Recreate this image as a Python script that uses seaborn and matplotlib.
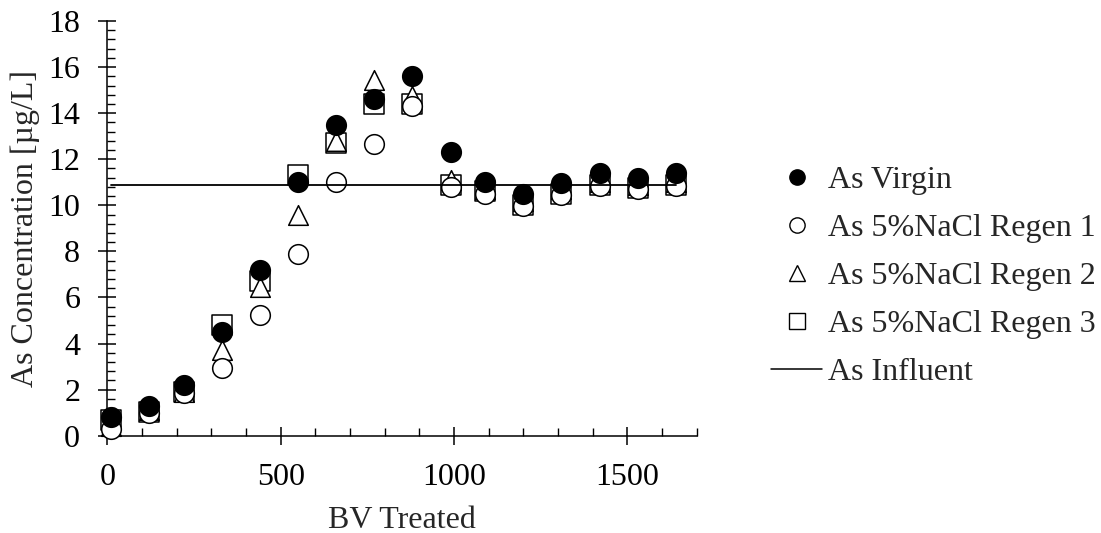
import matplotlib
matplotlib.use("Agg")
import matplotlib.pyplot as plt
from matplotlib.lines import Line2D
from matplotlib.ticker import MultipleLocator
import seaborn as sns
import pandas as pd

# Bed volumes treated at each sampling point
bv = [10, 120, 220, 330, 440, 550, 660, 770, 880, 990, 1090, 1200, 1310, 1420, 1530, 1640]

# Effluent arsenic concentration (µg/L) for each resin condition
as_virgin = [0.8, 1.3, 2.2, 4.5, 7.2, 11.0, 13.5, 14.6, 15.6, 12.3, 11.0, 10.5, 10.95, 11.4, 11.2, 11.4]
as_regen1 = [0.3, 1.0, 1.85, 2.95, 5.25, 7.9, 11.0, 12.65, 14.3, 10.8, 10.5, 9.95, 10.45, 10.85, 10.7, 10.85]
as_regen2 = [0.4, 1.1, 1.9, 3.7, 6.45, 9.6, 12.8, 15.45, 14.75, 11.1, 10.7, 10.2, 10.7, 11.0, 10.9, 11.0]
as_regen3 = [0.7, 1.05, 1.9, 4.8, 6.7, 11.3, 12.7, 14.4, 14.4, 10.9, 10.6, 10.0, 10.5, 10.9, 10.75, 10.9]

# Influent arsenic concentration (µg/L)
as_influent = 10.9

labels = ["As Virgin", "As 5%NaCl Regen 1", "As 5%NaCl Regen 2",
          "As 5%NaCl Regen 3", "As Influent"]

sns.set_theme(style="ticks")
plt.rcParams["font.family"] = ["Liberation Serif", "DejaVu Serif"]

FS = 23

fig = plt.figure(figsize=(11.01, 5.33), dpi=100)
ax = fig.add_axes([107.3 / 1101, 1 - 435.7 / 533, (696.7 - 107.3) / 1101, (435.7 - 21) / 533])

df = pd.DataFrame({"bv": bv, "virgin": as_virgin, "regen1": as_regen1,
                   "regen2": as_regen2, "regen3": as_regen3})

msize = 200
mew = 1.1
# open markers drawn first, white-filled; virgin on top
styles = [
    ("regen3", "s", "white", 2),
    ("regen2", "^", "white", 3),
    ("regen1", "o", "white", 4),
]
for col, mk, fc, z in styles:
    sns.scatterplot(data=df, x="bv", y=col, marker=mk, s=msize, facecolor=fc,
                    edgecolor="black", linewidth=mew, ax=ax, zorder=z, legend=False,
                    clip_on=False)

inf_df = pd.DataFrame({"bv": [bv[0], bv[-1]], "c": [as_influent, as_influent]})
sns.lineplot(data=inf_df, x="bv", y="c", color="black", linewidth=1.3, ax=ax, zorder=5)

sns.scatterplot(data=df, x="bv", y="virgin", marker="o", s=msize, facecolor="black",
                edgecolor="black", linewidth=mew, ax=ax, zorder=6, legend=False,
                clip_on=False)

ax.set_xlim(0, 1700)
ax.set_ylim(0, 18)
ax.xaxis.set_major_locator(MultipleLocator(500))
ax.xaxis.set_minor_locator(MultipleLocator(100))
ax.yaxis.set_major_locator(MultipleLocator(2))
ax.yaxis.set_minor_locator(MultipleLocator(0.4))

sns.despine(ax=ax)
for sp in ("left", "bottom"):
    ax.spines[sp].set_linewidth(1.1)
    ax.spines[sp].set_color("black")

ax.tick_params(which="major", direction="inout", length=13, width=1.1,
               labelsize=FS, pad=13, colors="black")
ax.tick_params(which="minor", direction="in", length=5.5, width=1.0, colors="black")

ax.set_xlabel("BV Treated", fontsize=FS, labelpad=10)
ax.set_ylabel("As Concentration [µg/L]", fontsize=FS, labelpad=6)

handles = [
    Line2D([], [], ls="none", marker="o", ms=11, mfc="black", mec="black", mew=1.0),
    Line2D([], [], ls="none", marker="o", ms=11, mfc="white", mec="black", mew=1.0),
    Line2D([], [], ls="none", marker="^", ms=11, mfc="white", mec="black", mew=1.0),
    Line2D([], [], ls="none", marker="s", ms=11, mfc="white", mec="black", mew=1.0),
    Line2D([], [], color="black", lw=1.1),
]
fig.legend(handles, labels, loc="upper left", bbox_to_anchor=(771 / 1101, 1 - 166 / 533),
           frameon=False, fontsize=FS, handlelength=1.6, handletextpad=0.2,
           labelspacing=0.58, borderpad=0, borderaxespad=0)

fig.savefig("out.png", dpi=100)
